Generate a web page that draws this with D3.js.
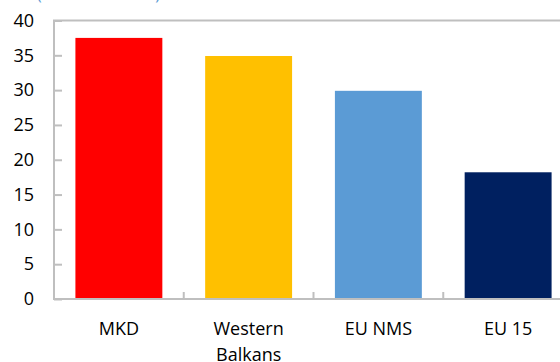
<!DOCTYPE html>
<html>
<head>
<meta charset="utf-8">
<script src="https://cdn.jsdelivr.net/npm/d3@7"></script>
<style>
  body { margin: 0; background: #fff; }
  svg { display: block; font-family: "Open Sans", "Noto Sans", sans-serif; }
</style>
</head>
<body>
<svg id="chart" width="560" height="362"></svg>
<script>
  const categories = ['MKD', 'Western\nBalkans', 'EU NMS', 'EU 15']
  const values = [37.5, 34.9, 29.9, 18.2]
  const colors = ['#ff0000', '#ffc000', '#5b9bd5', '#002060']
  const yTicks = [0, 5, 10, 15, 20, 25, 30, 35, 40]
  const subtitle = '(Percent of GDP)'

  const
    plotLeft = 54,
    plotRight = 573,
    plotTop = 20.5,
    plotBottom = 299

  const svg = d3.select('#chart')

  const x = d3.scaleBand()
    .domain(categories)
    .range([plotLeft, plotRight])
    .paddingInner(0.33)
    .paddingOuter(0.165)

  const y = d3.scaleLinear()
    .domain([0, 40])
    .range([plotBottom, plotTop])

  // subtitle, mostly cut off by the top edge
  svg.append('text')
    .attr('x', 37)
    .attr('y', -0.5)
    .attr('fill', '#5b9bd5')
    .attr('font-size', 16)
    .text(subtitle)

  // bars
  svg.selectAll('rect.bar')
    .data(values)
    .enter()
    .append('rect')
    .attr('class', 'bar')
    .attr('x', (d, i) => x(categories[i]))
    .attr('width', x.bandwidth())
    .attr('y', d => y(d))
    .attr('height', d => y(0) - y(d))
    .attr('fill', (d, i) => colors[i])

  // plot frame
  svg.append('rect')
    .attr('x', plotLeft)
    .attr('y', plotTop)
    .attr('width', plotRight - plotLeft)
    .attr('height', plotBottom - plotTop)
    .attr('fill', 'none')
    .attr('stroke', '#bfbfbf')
    .attr('stroke-width', 2)

  // y axis
  const yAxis = svg.append('g')
    .attr('transform', 'translate(' + plotLeft + ',0)')
    .call(d3.axisLeft(y).tickValues(yTicks).tickSize(-8).tickPadding(20))
  yAxis.select('.domain').remove()
  yAxis.selectAll('.tick line').attr('stroke', '#bfbfbf').attr('stroke-width', 2)
  yAxis.selectAll('.tick text')
    .attr('font-size', 18)
    .attr('fill', '#000')
    .attr('font-family', '"Open Sans", "Noto Sans", sans-serif')

  // x axis ticks at category boundaries
  const step = x.step()
  const bounds = categories.slice(1).map(c => x(c) - x.paddingInner() * step / 2)
  svg.selectAll('line.xtick')
    .data(bounds)
    .enter()
    .append('line')
    .attr('class', 'xtick')
    .attr('x1', d => d)
    .attr('x2', d => d)
    .attr('y1', plotBottom)
    .attr('y2', plotBottom - 7)
    .attr('stroke', '#bfbfbf')
    .attr('stroke-width', 2)

  // x labels
  const labels = svg.selectAll('text.xlabel')
    .data(categories)
    .enter()
    .append('text')
    .attr('class', 'xlabel')
    .attr('text-anchor', 'middle')
    .attr('font-size', 18)
    .attr('fill', '#000')

  labels.selectAll('tspan')
    .data(d => d.split('\n').map(t => ({ t: t, c: d })))
    .enter()
    .append('tspan')
    .attr('x', d => x(d.c) + x.bandwidth() / 2)
    .attr('y', (d, i) => 335 + i * 26)
    .text(d => d.t)
</script>
</body>
</html>
